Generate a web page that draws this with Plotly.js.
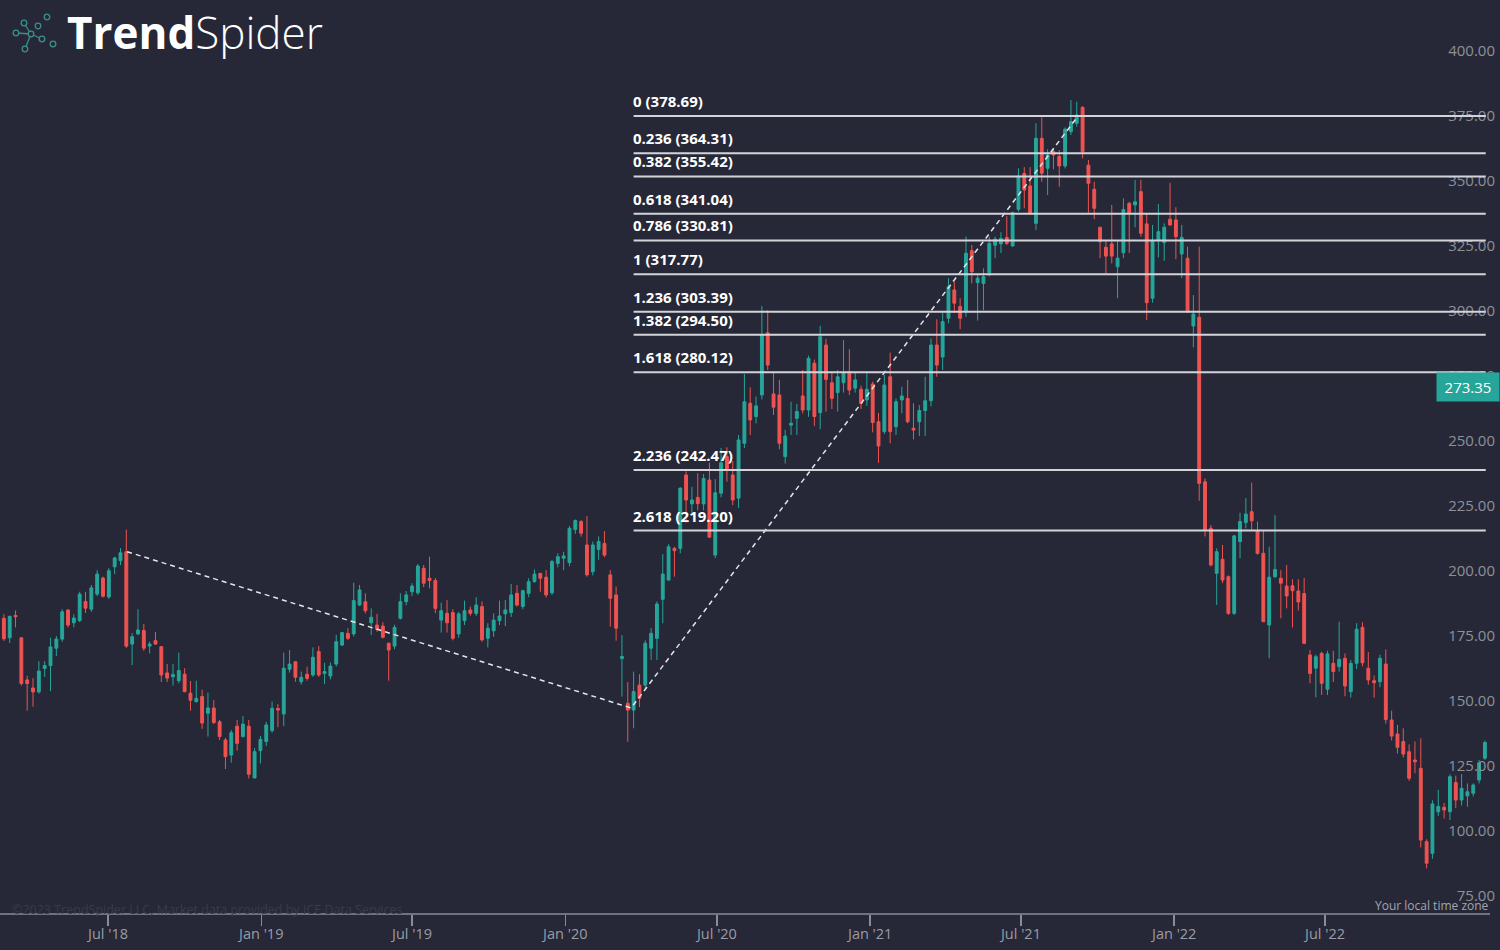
<!DOCTYPE html>
<html>
<head>
<meta charset="utf-8">
<script src="https://cdn.plot.ly/plotly-3.0.1.min.js"></script>
<style>
  html, body { margin: 0; padding: 0; background: #262837; }
  #chart { width: 1500px; height: 950px; }
</style>
</head>
<body>
<div id="chart"></div>
<script>
// ---- weekly META candles, first week starting 2018-02-26 ----
const firstWeek = '2018-02-26';

const open = [
  184.5,177,185.6,177,160.8,157.7,156.2,165.2,166.3,173,
  176.5,187.7,182.8,183.6,191,188,193.8,200,192.7,204.3,
  206.7,210.1,174.6,178.5,179.8,173.8,175.9,173.6,163.5,162,
  160.5,163,155.7,152.5,154.4,148,150,144.7,137.7,131.9,
  143,139,143,123.1,133.6,
  137.1,141.3,149.8,147.7,164.9,167.8,160.1,163,162.7,171.7,
  163.3,162.3,166.9,174.2,178.7,178.5,189.6,190.9,182.8,181.9,
  181.5,174.9,173.8,184.5,190.9,194.7,194.3,203.7,199.9,199,
  183.8,186.4,186.7,178.5,183.6,187.7,186.4,189,176.8,179.7,
  183.6,186.2,186.7,194.1,189,194.1,198.6,201.8,200.3,194.3,
  205.6,207.6,
  205.9,218.7,221.7,212.7,202.4,211,213.3,201.2,193.5,169,
  151.8,149.2,158.8,158.8,173,176.8,191.8,199.2,211.4,211.4,
  239.6,228.5,231,228.5,237.7,208.8,232.6,246.7,239.6,230.7,
  251.8,267.2,262.1,270.4,294.3,270.8,270.4,246.7,258.8,261.4,
  270,264.6,282.6,263.6,289.6,275.1,271.3,275.1,279.3,273,
  272.6,268.5,
  274.6,260.1,256.3,277.4,258.2,268.5,269,257.6,260.1,264.4,
  268.2,289.6,285,299.9,310.8,304.4,302.4,325.9,313.6,313.3,
  317.4,328,328.5,331,327.7,341.8,355.6,350.8,336.4,369.1,
  357.6,364,362.1,358.5,371.7,374.9,381,358.8,349.5,334.9,
  327.2,328.5,319.7,325.1,344.1,343.5,348.6,336.2,307.6,330,
  329,338,
  337.7,324.6,323,296.9,300.3,237,219.1,201.8,207.2,200.5,
  186.4,214,221.3,225.5,218.2,209.5,181.9,200.5,199.9,196.9,
  197,195,194,170.4,165.3,171,157.2,167.2,165.9,169.1,
  156.3,167.2,181,165.3,160.5,160.1,166.9,145.4,140,137.1,
  133.2,130,126.8,98.6,94.1,110.1,111.8,110.1,121.3,114.6,
  116.2,117.2,122.3,130.7
];

const high = [
  186.1,185.6,187.5,177.2,162.4,161.5,168,168,177,177.7,
  188,188,186,194.7,194.7,197.3,203,200.5,203.8,208.2,
  211.5,218.6,178.8,188,182.3,175.5,179.3,173.8,166.9,166.9,
  171.3,165.3,160.4,160.5,157,155.9,153,145.4,138.5,141.5,
  145.4,146.9,145.4,134.6,139.2,
  144.7,152.5,151.5,171.3,172.3,167.8,164,165.9,173.3,173.8,
  167.4,167.5,178.1,179.3,180.7,198.2,197.3,194.1,188.3,186.2,
  183,175.2,182,194.1,195,198,205.4,205,208.2,200,
  190.5,191.5,188,187,191.3,189,192.6,191,182.6,186.4,
  191.3,191.5,197.7,197.3,195.5,199.9,203.3,201.8,203,207,
  209.5,210.1,
  220,222.5,222.3,223.8,214,216,218,203,196.7,178,
  160,164,163,176,180.7,191,209.2,213,212,235,
  241,235.1,240.3,240,244.3,238,250,250.3,245,255,
  278.5,273.3,269.8,304.6,303,279,276.2,257,267.8,267,
  280,285.5,284,297,292,279,280,291.5,288,279.3,
  274,279.3,
  275.5,263.5,278.1,286.7,269,273.6,276.2,267.2,266.5,277.4,
  292.2,299.5,302,315.3,314,307.6,331.3,328.1,316.5,319.1,
  331.3,331.3,333,339.2,340.9,357.6,358,358,374.9,377.2,
  364.9,365.3,364.6,373.3,383.8,383.2,381.5,360.8,352.4,335.1,
  330,343.5,329.7,346,344.7,353.1,353.1,340.3,335.8,343.8,
  336.4,352,
  342.6,335.8,327.4,308.8,327.4,238.3,220.4,211.4,212.7,201,
  216.6,225.1,230.7,236.7,221.7,218.2,212,224.2,203,205,
  199.5,199.5,200,172.3,170.5,171.7,172,172,183.2,171,
  168.5,182.6,183,171.5,162.5,170.5,172.5,149,143.5,142.2,
  136,137.1,138.3,99.5,114.5,118.5,113.5,124.5,124,124.6,
  121,121,130,137.5
];

const low = [
  175.8,175,181,158.6,149,150.5,155.5,162,156.5,170,
  175.5,181,181,183,186.5,187,193,192.5,192,201.5,
  205,173.1,166.5,178,172,171,174.4,160,160,158.6,
  159.5,156,149,152,142,139,143.8,137.7,126.5,129,
  133.6,138.7,122.9,123,128.7,
  135.4,140.5,142.6,143,163.6,160.1,159,160.5,162,162,
  159.2,161,166,173.8,176.2,177.5,189.2,186.4,178.1,179.3,
  176.8,160.5,172.6,184,189.5,193,193.5,196.5,196,186.5,
  179,179,176,177,181.9,185.5,185.4,175.5,173.3,177.4,
  181.9,181.5,185,189,188,192.6,198.2,194.7,192.5,193.5,
  204.1,203,
  204.5,217,215.9,200.5,201,207,208,181.3,175.9,154.4,
  137,142.2,150.3,157,168.5,168.5,182.6,199,200.5,209.5,
  221.3,224.9,226,226,215.5,207.6,231,237,228,227,
  250,255,259.5,268.7,280,262.7,249.5,244,255,255,
  263.3,262,258.5,257.2,264,265,264,271.3,270.4,271.3,
  265,266.2,
  256,244.3,255.4,251.8,255,263.3,259.5,253.3,254.6,254.6,
  266,277.4,280,298,302,295.7,300.5,313.3,299,303,
  316,323,325,328,327.4,340.9,342.2,339.6,333.8,352.4,
  347.3,357.2,350.5,357.5,370.4,373.6,361.4,340.5,338,323,
  317,321,307.6,323,325,334.9,331.3,299.2,305.9,323.3,
  322,335.4,
  322.6,315.3,302,288.7,229.7,216,204.4,189.6,198,185.8,
  185.8,207.6,219.1,218.5,209,183,169.1,199.9,184.5,188.3,
  181,187.5,174.5,159.5,154.1,155,155,160,164,154.5,
  154,165,166,159,154,158,144,137.5,132.5,131,
  122,124.9,96.4,88.3,92,108.5,107.5,106.9,111.5,112.5,
  112,116,121,130
];

const close = [
  176.6,185.2,185.1,159.4,159.4,156.2,164.2,166.3,173.5,176.5,
  187,181.9,184.6,193.8,188.4,196.2,201.5,193,202.8,207.7,
  209.7,173.8,177.4,180,173,174.6,174.6,162.7,161.5,162.9,
  164.4,156.3,153,153.7,144.2,150,144.4,139,131.3,140.5,
  136.4,143.8,124.5,133.2,137.9,
  143.5,149.9,149.2,165.3,166.9,161.8,161.8,161.4,169.5,162.7,
  164,166.1,175.5,179,176.8,191.3,195.4,187.4,184.9,180.3,
  177.2,172.3,181,190.9,193.5,196.9,204.6,198,199,188.3,
  187.4,182.8,176.8,186.2,187.4,186.4,189.6,176.2,180.7,183.8,
  185.4,187.7,193.5,189.6,195.1,198.6,201.5,199.9,193.5,206.3,
  208.2,208.5,
  219.1,222.1,217.2,201.2,212.7,214,208.8,192.2,180.7,169.8,
  149.2,156.3,153.7,174.9,178.7,190,201.5,212,210.5,234.5,
  230,230,228.6,238.3,215.7,232.8,244.3,241.5,230,253.1,
  267.8,260.8,266.2,293.5,281.9,265.7,251.8,254.6,259.5,264,
  264.6,284.5,262.1,292.8,276.4,269.1,277.4,279,272.3,276.2,
  267.2,272.6,
  259.8,250.8,274.2,256.3,267.8,270,260.1,256.9,264.4,268.2,
  289.6,281.9,298.6,312,305.7,299.9,324.9,317.8,315.3,315.9,
  328.7,330.3,330.6,328.7,340.5,354.6,349.2,340.3,369.1,355.7,
  362.7,362.7,358.5,372.6,375.5,378.1,364,351.8,342.2,329.4,
  323.8,323.8,323,341.7,340.3,344.7,332.6,305.9,329.4,333.2,
  334.9,335.8,
  331.3,331,302.4,301.5,236.4,218.7,205,210.1,199.2,186.4,
  216.2,221.7,224.6,222,209.5,183.2,200.3,203.3,198,193.1,
  195.1,190.8,174.9,163.3,169.7,159.5,170.8,164,168.7,158.5,
  167.2,180.3,167.4,160.8,159.7,169.1,145.6,139.2,134.9,132.3,
  123,129.3,99.2,90.3,113.1,112.1,110.8,123.6,114.6,119.1,
  117.8,120.4,128.9,136.7
];

// Fibonacci levels
const fibLevels = ['0','0.236','0.382','0.618','0.786','1','1.236','1.382','1.618','2.236','2.618'];
const fibPrices = [378.69,364.31,355.42,341.04,330.81,317.77,303.39,294.50,280.12,242.47,219.20];
const fibStart = '2020-03-23';
const fibEnd = '2023-01-10';

// dashed swing line
const swingDates = ['2018-07-24','2020-03-20','2021-09-06'];
const swingPrices = [210.1, 150.0, 377.0];

// axis ticks
const xTickVals = ['2018-07-01','2019-01-01','2019-07-01','2020-01-01','2020-07-01','2021-01-01','2021-07-01','2022-01-01','2022-07-01'];
const xTickText = ["Jul '18","Jan '19","Jul '19","Jan '20","Jul '20","Jan '21","Jul '21","Jan '22","Jul '22"];

const lastPrice = 273.35;

// ---------- build ----------
const t0 = Date.parse(firstWeek + 'T00:00:00Z');
const weeks = open.map((_, i) => new Date(t0 + i * 7 * 864e5).toISOString().slice(0, 10));

const green = '#26a69a';
const red = '#ef5350';
const bg = '#262837';

const candles = {
  type: 'candlestick',
  x: weeks, open: open, high: high, low: low, close: close,
  increasing: { line: { color: green, width: 1 }, fillcolor: green },
  decreasing: { line: { color: red, width: 1 }, fillcolor: red },
  whiskerwidth: 0,
  hoverinfo: 'skip',
  showlegend: false
};

const swing = {
  type: 'scatter', mode: 'lines',
  x: swingDates, y: swingPrices,
  line: { color: '#e4e4e8', width: 1.5, dash: '5px,4px' },
  hoverinfo: 'skip', showlegend: false
};

// pixel helpers for decorations (plot area = 1500 x 914 px)
const PW = 1500, PH = 914;
const px = v => v / PW;
const py = v => (PH - v) / PH;

const fibDrop = -2.5; // levels are drawn slightly below their price, as in the source

const shapes = [];
fibPrices.forEach(p => {
  shapes.push({ type: 'line', xref: 'x', yref: 'y', ysizemode: 'pixel', yanchor: p,
    x0: fibStart, x1: fibEnd, y0: fibDrop, y1: fibDrop,
    line: { color: '#d3d4da', width: 2 }, layer: 'above' });
});
// bottom axis line
shapes.push({ type: 'line', xref: 'paper', yref: 'paper', x0: 0, x1: px(1490), y0: 0, y1: 0,
  line: { color: '#8a8d96', width: 1.5 } });

// logo icon (nodes + links)
const nodes = [[16,33],[24,23],[31,34],[38,26],[47,17],[42,39],[53,44],[25,49]];
const links = [[7,2],[2,1],[2,5],[2,0]];
links.forEach(([a, b]) => {
  shapes.push({ type: 'line', xref: 'paper', yref: 'paper',
    x0: px(nodes[a][0]), y0: py(nodes[a][1]), x1: px(nodes[b][0]), y1: py(nodes[b][1]),
    line: { color: '#3b8f8b', width: 1.3 } });
});
nodes.forEach(([cx, cy]) => {
  const r = 2.8;
  shapes.push({ type: 'circle', xref: 'paper', yref: 'paper',
    x0: px(cx - r), x1: px(cx + r), y0: py(cy + r), y1: py(cy - r),
    line: { color: '#3b8f8b', width: 1.3 }, fillcolor: bg });
});

const annotations = [];
fibLevels.forEach((lv, i) => {
  annotations.push({ xref: 'x', yref: 'y', x: fibStart, y: fibPrices[i],
    xanchor: 'left', yanchor: 'bottom', yshift: 3 + fibDrop, xshift: -3,
    text: lv + ' (' + fibPrices[i].toFixed(2) + ')', showarrow: false,
    font: { family: 'Open Sans', size: 15, color: '#ffffff', weight: 700 } });
});
annotations.push({ xref: 'paper', yref: 'y', x: 1, y: lastPrice, xanchor: 'right', yanchor: 'middle',
  text: lastPrice.toFixed(2), showarrow: false, bgcolor: green, borderpad: 4, width: 54,
  font: { family: 'Open Sans', size: 15, color: '#ffffff' } });
annotations.push({ xref: 'paper', yref: 'paper', x: px(65), y: py(32), xanchor: 'left', yanchor: 'middle',
  text: '<b>Trend</b>Spider', showarrow: false,
  font: { family: 'Open Sans', size: 44, color: '#ffffff', weight: 300 } });
annotations.push({ xref: 'paper', yref: 'paper', x: px(10), y: py(909), xanchor: 'left', yanchor: 'middle',
  text: '©2023 TrendSpider LLC, Market data provided by ICE Data Services', showarrow: false,
  font: { family: 'Open Sans', size: 12.5, color: '#383b4d' } });
annotations.push({ xref: 'paper', yref: 'paper', x: px(1491), y: py(905), xanchor: 'right', yanchor: 'middle',
  text: 'Your local time zone', showarrow: false,
  font: { family: 'Open Sans', size: 12, color: '#a3a5ad' } });

const layout = {
  width: 1500, height: 950,
  paper_bgcolor: bg, plot_bgcolor: bg,
  margin: { l: 0, r: 0, t: 0, b: 36 },
  showlegend: false,
  xaxis: {
    type: 'date',
    range: ['2018-02-21 08:24', '2023-01-27 02:24'],
    rangeslider: { visible: false },
    showgrid: false, zeroline: false, showline: false,
    ticks: 'outside', ticklen: 11, tickwidth: 1.5, tickcolor: '#8a8d96',
    tickmode: 'array', tickvals: xTickVals, ticktext: xTickText,
    ticklabelstandoff: -4,
    tickfont: { family: 'Open Sans', size: 14.5, color: '#9a9ca5' },
    fixedrange: true
  },
  yaxis: {
    side: 'right',
    range: [70.77, 422.31],
    tick0: 0, dtick: 25, tickformat: '.2f',
    ticklabelposition: 'inside',
    ticklabelshift: -7,
    ticklabelstandoff: 2,
    ticklabeloverflow: 'allow',
    showgrid: false, zeroline: false, showline: false, ticks: '',
    tickfont: { family: 'Open Sans', size: 15, color: '#8d909a' },
    fixedrange: true
  },
  shapes: shapes,
  annotations: annotations
};

Plotly.newPlot('chart', [candles, swing], layout, { staticPlot: true, displayModeBar: false });
</script>
</body>
</html>
